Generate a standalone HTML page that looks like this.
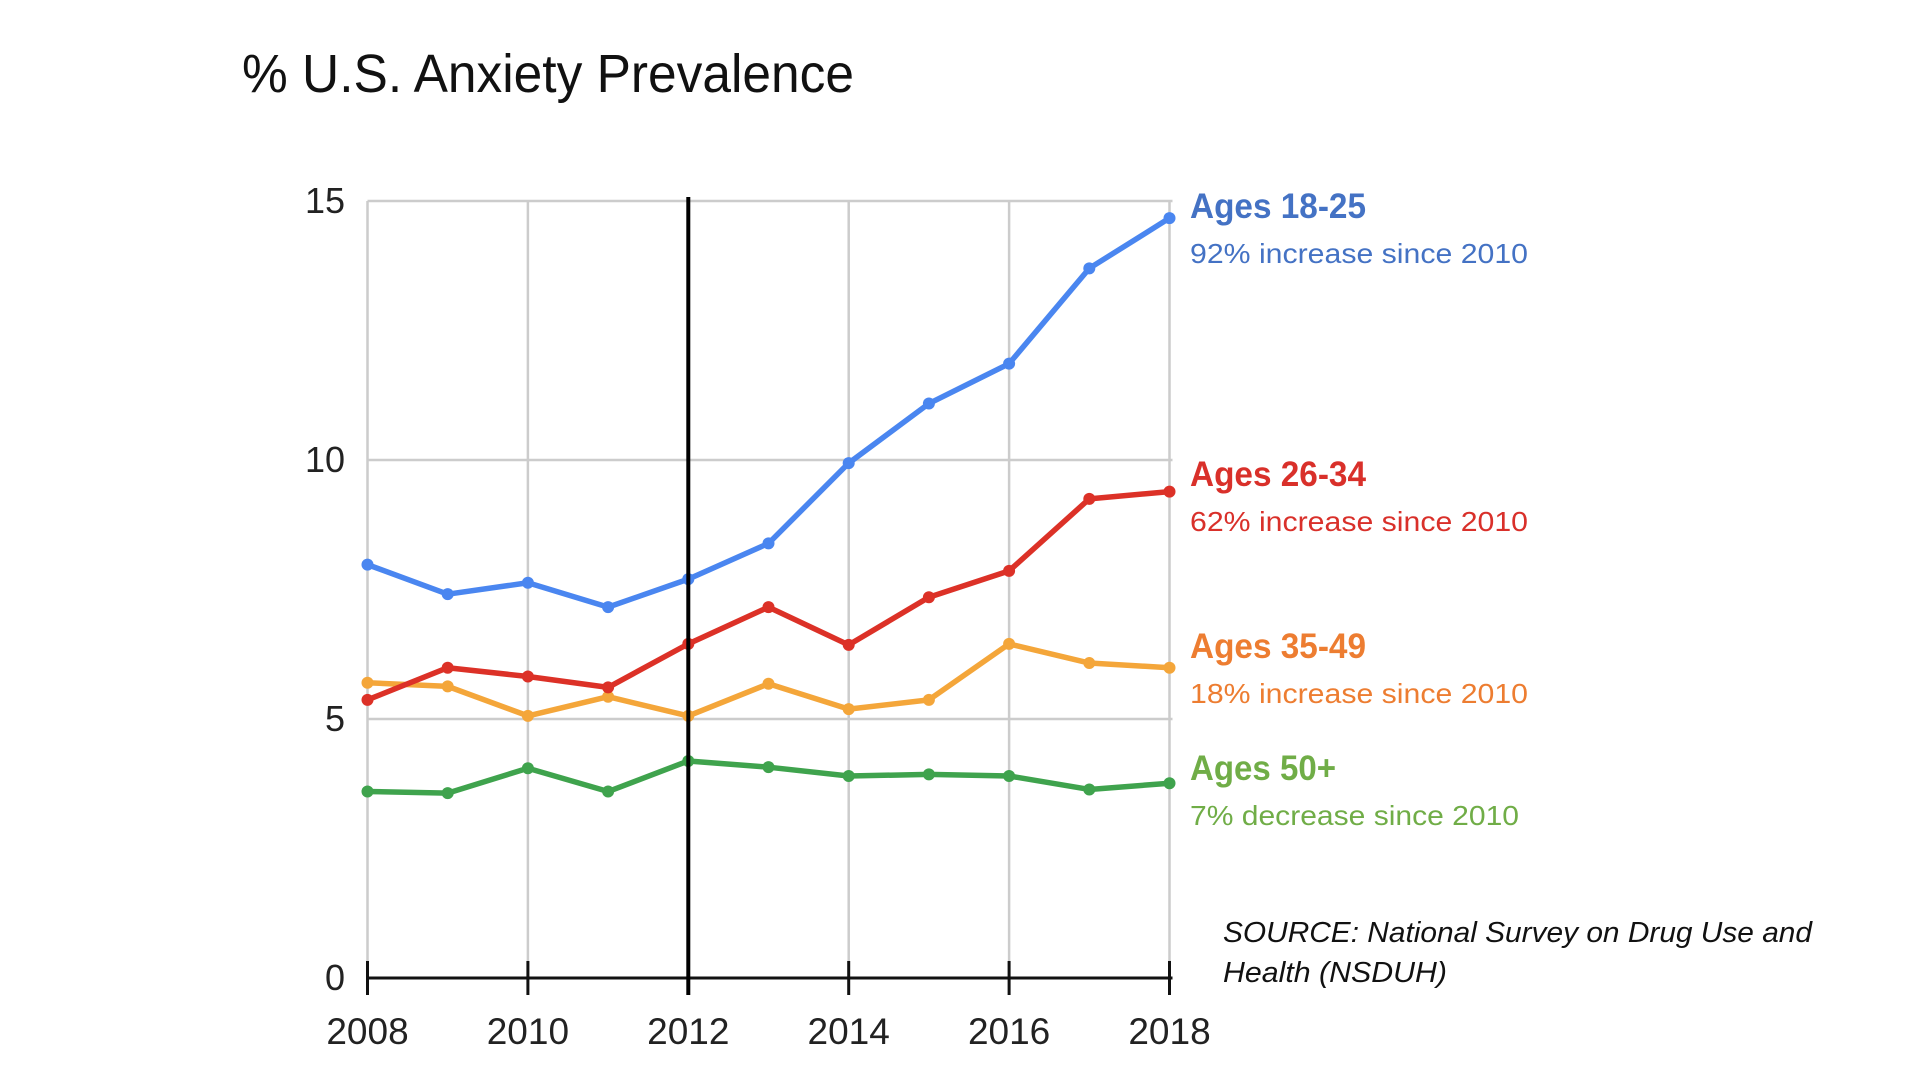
<!DOCTYPE html>
<html><head><meta charset="utf-8"><style>
html,body{margin:0;padding:0;background:#fff;}
svg{display:block;}
text{font-family:"Liberation Sans",sans-serif;}
</style></head><body>
<svg id="chart" width="1920" height="1080" xmlns="http://www.w3.org/2000/svg">
<text x="242" y="92" font-size="54" fill="#111" textLength="612" lengthAdjust="spacingAndGlyphs">% U.S. Anxiety Prevalence</text>
<g id="grid"></g>
<g id="axes"></g>
<g id="series"></g>
<g font-family="Liberation Sans, sans-serif">
<text x="1190" y="218" font-size="35" font-weight="bold" fill="#4472c4" textLength="176" lengthAdjust="spacingAndGlyphs">Ages 18-25</text>
<text x="1190" y="263" font-size="28" fill="#4472c4" textLength="338" lengthAdjust="spacingAndGlyphs">92% increase since 2010</text>
<text x="1190" y="486" font-size="35" font-weight="bold" fill="#d9302a" textLength="176" lengthAdjust="spacingAndGlyphs">Ages 26-34</text>
<text x="1190" y="531" font-size="28" fill="#d9302a" textLength="338" lengthAdjust="spacingAndGlyphs">62% increase since 2010</text>
<text x="1190" y="658" font-size="35" font-weight="bold" fill="#ed7d31" textLength="176" lengthAdjust="spacingAndGlyphs">Ages 35-49</text>
<text x="1190" y="703" font-size="28" fill="#ed7d31" textLength="338" lengthAdjust="spacingAndGlyphs">18% increase since 2010</text>
<text x="1190" y="780" font-size="35" font-weight="bold" fill="#70ad47" textLength="146" lengthAdjust="spacingAndGlyphs">Ages 50+</text>
<text x="1190" y="825" font-size="28" fill="#70ad47" textLength="329" lengthAdjust="spacingAndGlyphs">7% decrease since 2010</text>
<text x="1223" y="942" font-size="29" font-style="italic" fill="#111" textLength="589" lengthAdjust="spacingAndGlyphs">SOURCE: National Survey on Drug Use and</text>
<text x="1223" y="982" font-size="29" font-style="italic" fill="#111" textLength="224" lengthAdjust="spacingAndGlyphs">Health (NSDUH)</text>
</g>
</svg>
<script>
const years = [2008,2009,2010,2011,2012,2013,2014,2015,2016,2017,2018];
const ages1825 = [7.98,7.41,7.63,7.16,7.70,8.39,9.94,11.09,11.86,13.70,14.67];
const ages2634 = [5.37,5.99,5.82,5.61,6.45,7.16,6.43,7.35,7.86,9.25,9.39];
const ages3549 = [5.70,5.63,5.06,5.43,5.06,5.68,5.19,5.37,6.45,6.08,5.99];
const ages50 = [3.60,3.57,4.05,3.60,4.19,4.07,3.90,3.93,3.90,3.64,3.76];
const yTicks = [0,5,10,15];
const xTickLabels = [2008,2010,2012,2014,2016,2018];
const markerYear = 2012;

const NS = "http://www.w3.org/2000/svg";
const X0 = 367.5, X1 = 1169.5, Y0 = 978, Y1 = 201;
const xs = v => X0 + (v - 2008) / 10 * (X1 - X0);
const ys = v => Y0 - v / 15 * (Y0 - Y1);
function mk(tag, attrs, parent){ const e=document.createElementNS(NS,tag); for(const k in attrs) e.setAttribute(k,attrs[k]); parent.appendChild(e); return e; }
const grid=document.getElementById('grid'), axes=document.getElementById('axes'), ser=document.getElementById('series');

yTicks.forEach(t=>{
  if(t>0){ const l=mk('line',{x1:X0,x2:X1+3,y1:ys(t),y2:ys(t),stroke:'#cccccc','stroke-width':2.5},grid);
    
     }
  const tx=mk('text',{x:345,y:ys(t)+12,'font-size':36,'text-anchor':'end',fill:'#222'},axes);
  tx.textContent=t;
  
  
});
years.filter(yr=>yr%2===0).forEach(yr=>{
  const l=mk('line',{x1:xs(yr),x2:xs(yr),y1:Y1,y2:Y0,stroke:'#cccccc','stroke-width':2.5},grid);
  
  
});

const ax=mk('line',{x1:X0,x2:X1+3,y1:Y0,y2:Y0,stroke:'#111','stroke-width':3},axes);


xTickLabels.forEach(yr=>{
  const t=mk('line',{x1:xs(yr),x2:xs(yr),y1:961,y2:995,stroke:'#111','stroke-width':3},axes);
  
  
  const tx=mk('text',{x:xs(yr),y:1044,'font-size':37,'text-anchor':'middle',fill:'#222'},axes);
  tx.textContent=yr;
  
  
});

function drawSeries(vals,color,name){
  const g=mk('g',{},ser);
  
  
  const pl=mk('polyline',{points:vals.map((v,i)=>xs(years[i])+','+ys(v)).join(' '),fill:'none',stroke:color,'stroke-width':5.5,'stroke-linejoin':'round'},g);
  
  
  vals.forEach((v,i)=>{
    const c=mk('circle',{cx:xs(years[i]),cy:ys(v),r:6,fill:color},g);
    
    
  });
}
drawSeries(ages50,'#3fa34d','ages-50-plus');
drawSeries(ages3549,'#f4a63a','ages-35-49');
drawSeries(ages2634,'#dc3127','ages-26-34');
drawSeries(ages1825,'#4a86f0','ages-18-25');

const vl=mk('line',{x1:xs(markerYear),x2:xs(markerYear),y1:197,y2:995,stroke:'#000','stroke-width':4},ser);


</script>
</body></html>
